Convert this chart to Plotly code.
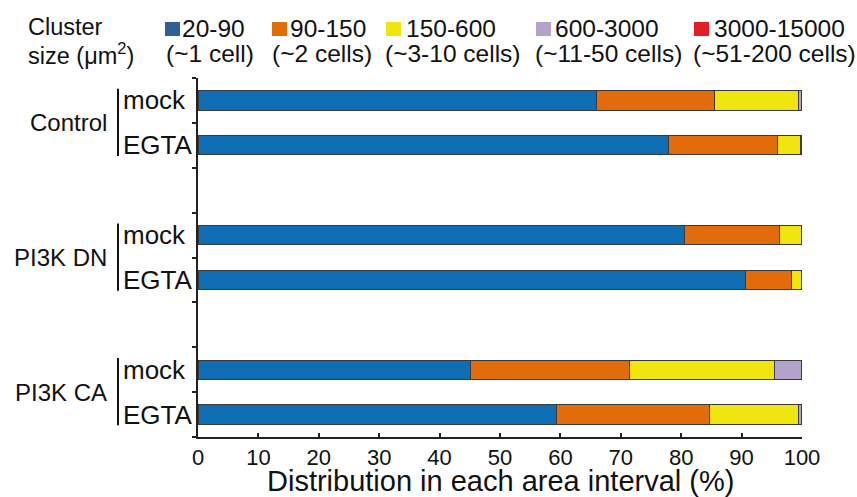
import plotly.graph_objects as go

# ---- data ----
groups = ["Control", "PI3K DN", "PI3K CA"]
conditions = ["mock", "EGTA"]
bins = ["20-90", "90-150", "150-600", "600-3000", "3000-15000"]
bin_cells = ["(~1 cell)", "(~2 cells)", "(~3-10 cells)", "(~11-50 cells)", "(~51-200 cells)"]
# rows: Control mock, Control EGTA, DN mock, DN EGTA, CA mock, CA EGTA
v_20_90 = [66.0, 77.9, 80.6, 90.6, 45.1, 59.4]
v_90_150 = [19.5, 18.0, 15.6, 7.7, 26.4, 25.3]
v_150_600 = [14.0, 3.9, 3.7, 1.6, 24.0, 14.8]
v_600_3000 = [0.4, 0.1, 0.1, 0.1, 4.4, 0.4]
v_3000_15000 = [0.1, 0.1, 0.0, 0.0, 0.1, 0.1]
x_ticks = [0, 10, 20, 30, 40, 50, 60, 70, 80, 90, 100]

series = [v_20_90, v_90_150, v_150_600, v_600_3000, v_3000_15000]
bar_colors = ["#0f6db4", "#e36c0a", "#f1e50f", "#b3a2c9", "#e31e26"]
legend_colors = ["#2f5e98", "#e36c0a", "#f1e50f", "#b3a2c9", "#e31e26"]

FONT = "Arial, Liberation Sans, sans-serif"
W, H = 857, 497
L, R, T, B = 198, 802, 78, 437  # plot area in pixels

def px(x):
    return (x - L) / (R - L)

def py(y):
    return (B - y) / (B - T)

# y positions: each group occupies 3 slots (mock, EGTA, gap)
ypos = []
labels = []
for gi, g in enumerate(groups):
    for ci, c in enumerate(conditions):
        ypos.append(gi * 3 + ci + 0.5)
        labels.append(f"{g} {c}")

fig = go.Figure()
for name, vals, col in zip(bins, series, bar_colors):
    fig.add_trace(go.Bar(
        x=vals, y=ypos, orientation="h", name=name,
        marker=dict(color=col, line=dict(color="#3a3a3a", width=1)),
        width=0.43, showlegend=False,
        hovertext=labels,
    ))

annotations = []
shapes = []

# group and condition labels + brackets
for gi, g in enumerate(groups):
    y0 = gi * 3 + 0.5
    y1 = gi * 3 + 1.5
    annotations.append(dict(
        x=px(109), y=(y0 + y1) / 2, xref="paper", yref="y", text=g,
        showarrow=False, xanchor="right", yanchor="middle",
        font=dict(family=FONT, size=24, color="#111")))
    for ci, c in enumerate(conditions):
        annotations.append(dict(
            x=px(121), y=gi * 3 + ci + 0.5, xref="paper", yref="y", text=c,
            showarrow=False, xanchor="left", yanchor="middle",
            font=dict(family=FONT, size=26, color="#111")))
    shapes.append(dict(type="line", xref="paper", yref="y",
                       x0=px(118), x1=px(118), y0=y0 - 0.26, y1=y1 + 0.24,
                       line=dict(color="#111", width=2)))

# legend (custom)
annotations.append(dict(x=px(26), y=py(27), xref="paper", yref="paper", text="Cluster",
                        showarrow=False, xanchor="left", yanchor="middle",
                        font=dict(family=FONT, size=23.5, color="#111")))
annotations.append(dict(x=px(26), y=py(54), xref="paper", yref="paper",
                        text="size (\u03bcm<sup>2</sup>)",
                        showarrow=False, xanchor="left", yanchor="middle",
                        font=dict(family=FONT, size=23.5, color="#111")))
sq_left = [165, 272, 386, 536, 694]
txt_left = [180, 288, 404, 553, 712]
line2_left = [164, 270, 383, 533, 691]
for i in range(len(bins)):
    shapes.append(dict(type="rect", xref="paper", yref="paper",
                       x0=px(sq_left[i]), x1=px(sq_left[i] + 15),
                       y0=py(36), y1=py(22),
                       fillcolor=legend_colors[i], line=dict(width=0)))
    annotations.append(dict(x=px(txt_left[i]), y=py(28), xref="paper", yref="paper",
                            text=bins[i], showarrow=False, xanchor="left", yanchor="middle",
                            font=dict(family=FONT, size=24.5, color="#111")))
    annotations.append(dict(x=px(line2_left[i]), y=py(54), xref="paper", yref="paper",
                            text=bin_cells[i], showarrow=False, xanchor="left", yanchor="middle",
                            font=dict(family=FONT, size=24.5, color="#111")))

# x-axis title
annotations.append(dict(x=px(500), y=py(481), xref="paper", yref="paper",
                        text="Distribution in each area interval (%)",
                        showarrow=False, xanchor="center", yanchor="middle",
                        font=dict(family=FONT, size=29, color="#111")))

fig.update_layout(
    width=W, height=H,
    margin=dict(l=L, r=W - R, t=T, b=H - B, pad=0),
    barmode="stack",
    plot_bgcolor="white", paper_bgcolor="white",
    annotations=annotations, shapes=shapes,
    xaxis=dict(range=[0, 100], tickvals=x_ticks, ticktext=[str(t) for t in x_ticks],
               ticks="inside", ticklen=4, tickwidth=1.5, tickcolor="#222",
               showline=True, linecolor="#222", linewidth=2,
               showgrid=False, zeroline=False,
               tickfont=dict(family=FONT, size=22, color="#111")),
    yaxis=dict(range=[8, 0], tickvals=list(range(0, 9)), showticklabels=False,
               ticks="outside", ticklen=4, tickwidth=1.5, tickcolor="#222",
               showline=True, linecolor="#222", linewidth=2,
               showgrid=False, zeroline=False),
)

fig.write_html("out.html",
               config={"displayModeBar": False},
               post_script="document.body.style.margin='0';document.body.style.overflow='hidden';")
